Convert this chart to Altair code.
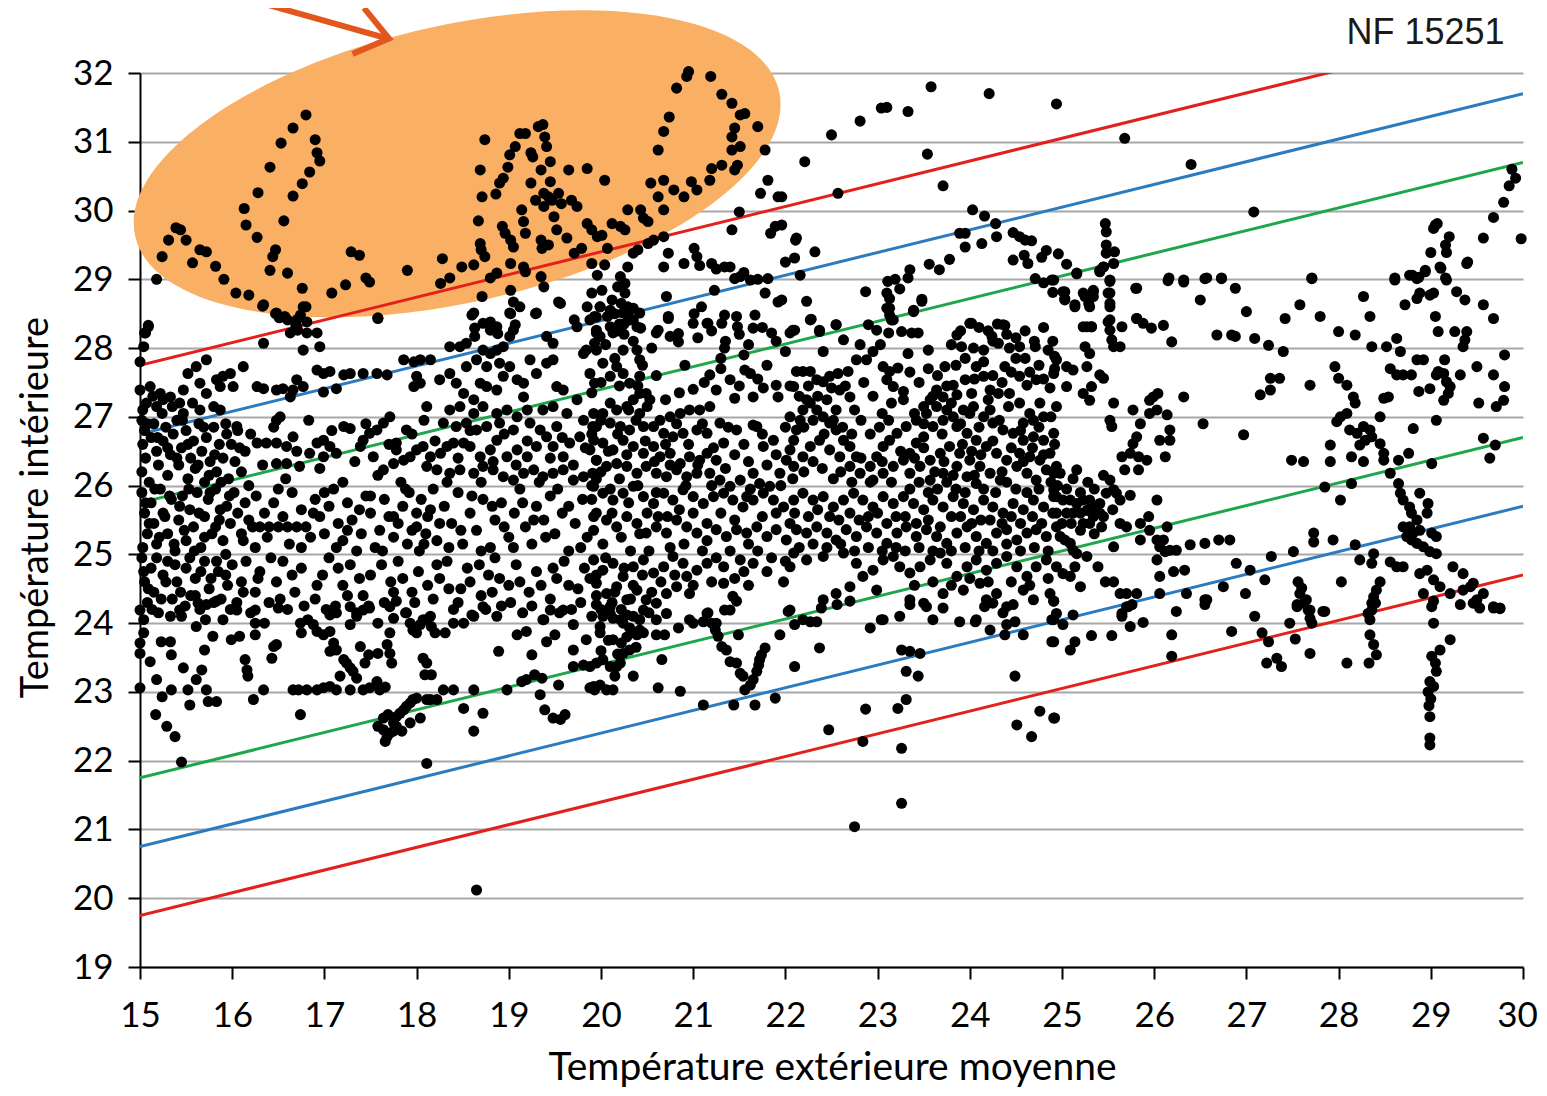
import altair as alt
import pandas as pd

# ---------------- data (x = outdoor mean, y = indoor) ----------------
ellipse_zone = [
(15.09,28.33),(15.06,28.22),(15.18,29.0),(15.24,29.33),(15.31,29.57),(15.39,29.75),(15.44,29.72),(15.5,29.57),(15.57,29.24),(15.65,29.43),(15.72,29.4),(15.82,29.19),(15.91,29.0),(16.04,28.8),(16.18,28.77),(16.33,28.61),(16.47,28.5),(16.51,28.44),(16.6,28.41),(16.69,28.33),(16.74,28.48),(16.71,28.26),(16.8,28.6),(16.76,28.87),(16.6,29.09),(16.41,29.13),(16.44,29.33),(16.47,29.43),(16.27,29.61),(16.15,29.79),(16.13,30.03),(16.28,30.26),(16.41,30.63),(16.56,29.85),(16.66,30.21),(16.76,30.39),(16.84,30.56),(16.53,30.98),(16.66,31.2),(16.8,31.39),(16.9,31.03),(16.92,30.84),(16.95,30.72),(17.08,28.8),(17.23,28.92),(17.29,29.4),(17.38,29.35),(17.45,29.02),(17.49,28.96),(17.58,28.44),(17.9,29.13),(18.26,28.94),(18.28,29.3),(18.36,29.02),(18.49,29.18),(18.62,29.21),(18.69,29.52),(18.71,30.2),(18.69,30.59),(18.74,31.03),(18.67,29.85),(18.7,29.43),(18.74,29.33),(18.8,29.02),(18.87,29.09),(18.86,30.24),(18.9,30.4),(18.94,30.47),(18.99,30.63),(19.01,30.81),(19.07,30.93),(19.12,31.12),(19.18,31.12),(19.24,30.84),(19.26,30.78),(19.32,31.22),(19.37,31.25),(19.39,31.07),(19.41,30.93),(19.45,30.71),(19.24,30.4),(19.29,30.15),(19.38,30.25),(19.43,30.2),(19.47,30.15),(19.38,30.06),(19.45,30.42),(19.35,30.59),
(19.14,30.01),(19.16,29.84),(19.18,29.67),(18.93,29.77),(18.96,29.67),(19.02,29.57),(19.05,29.47),(19.02,29.23),(19.16,29.18),(19.18,29.11),(19.35,29.57),(19.36,29.45),(19.43,29.5),(19.49,29.91),(19.52,29.72),(19.54,30.25),(19.57,30.1),(19.65,30.59),(19.68,30.15),(19.74,30.06),(19.85,30.61),(20.04,30.44),(19.63,29.6),(19.71,29.38),(19.79,29.45),(19.85,29.81),(19.9,29.72),(19.96,29.62),(20.01,29.64),(19.9,29.23),(19.96,29.06),(20.04,29.21),(20.07,29.45),(20.12,29.81),(20.21,29.77),(20.26,29.72),(20.29,30.01),(20.43,30.01),(20.46,29.89),(20.51,29.84),(20.54,30.4),(20.62,30.2),(20.68,30.01),(20.68,30.44),(20.79,30.3),(20.9,30.2),(20.98,30.42),(21.04,30.3),(21.18,30.44),(21.2,30.61),(21.31,30.66),(21.45,30.59),(21.48,30.66),(21.42,30.88),(21.51,30.93),(20.62,30.88),(20.68,31.15),(20.74,31.36),(20.82,31.78),(20.93,31.95),(20.95,32.02),(21.19,31.95),(21.31,31.69),(21.42,31.56),(21.51,31.39),(21.56,31.41),(21.45,31.2),(21.42,31.07),(21.7,31.22),(21.78,30.88),(21.81,30.44),(21.73,30.25),(21.92,30.2),(21.5,29.98),(21.42,29.72),(21.89,29.77),(21.84,29.67),(22.11,29.57),
]

below_ellipse = [
(18.6,28.48),(18.63,28.29),(18.71,28.75),(18.8,28.38),(18.88,28.21),(19.02,28.84),(19.05,28.67),(19.02,28.5),(19.07,28.34),(19.29,28.5),(19.35,29.04),(19.38,28.89),(19.54,28.67),(19.71,28.41),(19.9,28.8),(19.93,28.46),(19.99,28.6),(20.01,28.84),(20.07,28.46),(20.12,28.7),(20.18,28.89),(20.21,29.04),(20.26,28.94),(20.29,29.18),(20.35,29.38),(20.4,29.43),(20.51,29.52),(20.57,29.57),(20.68,29.62),(20.26,28.8),(20.29,28.6),(20.35,28.41),(20.68,29.18),(20.73,29.38),(20.9,29.23),(21.01,29.45),(21.04,29.33),(21.2,29.23),(21.34,29.18),(21.45,29.01),(21.51,29.04),(21.62,28.99),(21.78,28.8),(21.81,29.01),(21.92,28.67),(21.67,28.48),(21.23,28.84),(21.34,28.48),(21.48,28.31),(21.15,28.36),(21.01,28.5),(20.84,28.21),(20.71,28.75),(20.73,28.46),(20.62,28.26),(20.43,28.29),
(20.15,28.5),(20.2,28.35),(20.22,28.65),(20.3,28.45),(20.18,28.25),(20.25,28.2),
(21.07,29.2),(21.25,29.15),(21.4,29.18),(21.55,29.1),(21.7,29.0),(22.0,29.25),(22.16,29.06),
(21.05,28.15),(21.2,28.25),(21.35,28.1),(21.5,28.2),(21.6,28.05),(21.75,28.3),(21.9,28.1),(22.0,27.95),(21.3,27.85),(21.55,27.9),(21.8,27.75),
]

left_upper = [
(16.34,28.63),(16.48,28.51),(16.57,28.46),(16.7,28.41),(16.77,28.6),(16.81,28.38),(16.63,28.22),(16.7,28.31),(16.81,28.22),(16.92,28.22),(16.77,27.97),(16.95,28.02),(16.34,28.07),(17.58,28.43),(18.62,28.51),(18.72,28.36),(18.8,28.26),(18.87,28.31),(19.01,28.51),(19.05,28.26),(19.12,28.6),(19.3,28.51),(19.56,28.65),(19.74,28.31),(19.88,28.41),(19.95,28.22),(19.93,28.07),(18.36,28.02),(18.47,28.02),(18.54,28.07),(18.63,28.17),(18.72,27.97),(18.8,27.92),(18.87,27.97),(18.94,28.02),(19.01,28.17),(19.41,28.17),(19.48,28.07),(19.84,27.97),(15.04,28.02),(15.05,28.22),(15.09,28.31),(15.0,27.8),
(15.0,27.39),(15.11,27.44),(15.22,27.34),(15.07,27.2),(15.18,27.15),(15.25,27.25),(15.33,27.29),(15.43,27.2),(15.47,27.39),(15.52,27.63),(15.61,27.73),(15.72,27.83),(15.65,27.49),(15.72,27.34),(15.83,27.54),(15.87,27.44),(15.9,27.59),(15.98,27.63),(16.01,27.44),(16.12,27.73),(15.8,27.15),(15.87,27.1),(15.65,27.1),(15.47,27.05),
(16.27,27.44),(16.34,27.41),(16.48,27.39),(16.55,27.41),(16.7,27.54),(16.66,27.39),(16.63,27.29),(16.77,27.44),(16.92,27.68),(16.99,27.63),(17.06,27.66),(17.21,27.61),(17.13,27.41),(16.99,27.36),(17.28,27.63),(17.42,27.63),(17.57,27.63),(17.68,27.61),(16.52,27.0),(16.48,26.95),(17.86,27.83),(17.97,27.8),(18.04,27.83),(18.15,27.83),(18.0,27.59),(17.97,27.44),(18.04,27.49),(18.11,27.15),(18.25,27.54),(18.36,27.63),(18.43,27.49),(18.51,27.34),(18.62,27.25),(18.69,27.49),(18.76,27.44),(18.87,27.39),(18.94,27.59),(19.01,27.73),(19.09,27.54),(19.16,27.49),(19.23,27.83),(19.3,27.63),(19.41,27.78),(19.48,27.83),(19.52,27.44),(19.59,27.39),(19.74,27.25),(19.81,27.92),(19.88,27.63),(19.93,27.49),(18.54,27.73),(18.65,27.83),(18.76,27.73),(18.9,27.78),(19.16,27.29),(18.36,27.1),(18.47,27.15),(18.62,27.05),(18.72,27.15),(18.87,27.05),(18.98,27.1),(19.09,27.0),(19.2,27.1),(19.37,27.1),(19.48,27.15),(19.63,27.05),
]

left_26 = [
(15.02,26.95),(15.05,26.8),(15.03,26.6),(15.06,26.4),(15.02,26.2),(15.1,26.05),(15.12,26.7),(15.15,26.9),(15.18,26.5),(15.2,26.3),(15.25,26.65),(15.28,26.85),(15.3,26.15),(15.33,26.45),(15.36,26.75),(15.4,26.95),(15.42,26.3),(15.45,26.55),(15.5,26.8),(15.52,26.1),(15.55,26.4),(15.58,26.65),(15.6,26.25),(15.64,26.9),(15.67,26.5),(15.7,26.05),(15.72,26.7),(15.76,26.35),(15.8,26.85),(15.83,26.2),(15.86,26.6),(15.9,26.4),(15.93,26.9),(15.96,26.1),(15.99,26.6),(16.03,26.35),(16.06,26.8),(16.1,26.2),(16.14,26.5),(16.18,26.0),
(16.05,26.86),(16.27,26.62),(16.37,26.62),(16.48,26.62),(16.59,26.57),(16.66,26.71),(16.48,26.32),(16.59,26.32),(16.73,26.28),(16.84,26.47),(16.99,26.42),(17.13,26.47),(17.06,26.57),(16.99,26.66),(16.92,26.62),
(17.21,26.86),(17.28,26.83),(17.42,26.66),(17.49,26.76),(17.57,26.81),(17.64,26.91),(17.71,27.0),(17.39,26.57),(17.53,26.42),(17.64,26.23),(17.75,26.32),(17.78,26.52),(17.86,26.37),(17.93,26.42),(18.0,26.52),(17.89,26.81),(17.78,26.62),
(18.07,26.57),(18.15,26.42),(18.26,26.47),(18.33,26.57),(18.4,26.62),(18.51,26.62),(18.58,26.57),(18.69,26.42),(18.8,26.52),(18.87,26.66),(18.98,26.42),(19.09,26.52),(19.2,26.42),(19.3,26.57),(19.41,26.71),(19.48,26.57),(19.59,26.42),(19.66,26.62),(19.77,26.71),(19.88,26.52),(19.95,26.37),(19.81,26.95),(19.91,26.86),(18.11,26.28),(18.22,26.23),(18.36,26.18),(18.47,26.23),(18.62,26.18),(18.72,26.28),(18.83,26.23),(18.94,26.13),(19.05,26.08),(19.16,26.18),(19.27,26.23),(19.37,26.13),(19.48,26.18),(19.59,26.23),(19.7,26.08),(19.81,26.13),(19.91,26.18),(18.29,26.91),(18.43,26.86),(18.54,26.91),(18.65,26.81),(18.76,26.86),(18.9,26.91),(19.05,26.81),(19.23,26.91),(19.34,26.81),(19.52,26.86),
]

left_25 = [
(15.02,25.9),(15.05,25.6),(15.08,25.3),(15.03,25.1),(15.12,25.75),(15.15,25.45),(15.18,25.15),(15.22,25.95),(15.25,25.6),(15.3,25.3),(15.34,25.8),(15.38,25.05),(15.42,25.5),(15.46,25.85),(15.5,25.2),(15.54,25.65),(15.58,25.4),(15.62,25.9),(15.66,25.1),(15.7,25.55),(15.74,25.8),(15.78,25.3),(15.82,25.95),(15.86,25.5),(15.9,25.2),(15.94,25.7),(15.98,25.45),
(16.02,25.9),(16.06,25.6),(16.1,25.3),(16.14,25.75),(16.18,25.5),(16.22,25.4),(16.26,25.85),(16.3,25.4),(16.35,25.6),(16.4,25.4),(16.45,25.75),(16.5,25.4),(16.55,25.55),(16.6,25.4),(16.65,25.9),(16.7,25.4),(16.75,25.65),(16.8,25.4),(16.85,25.25),(16.9,25.8),(16.95,25.55),(17.0,25.3),(17.05,25.7),(17.1,25.95),(17.15,25.45),(17.2,25.2),(17.25,25.75),(17.3,25.5),(17.35,25.05),(17.4,25.3),(17.45,25.85),(17.5,25.6),(17.55,25.1),(17.6,25.35),(17.65,25.8),(17.7,25.55),(17.75,25.25),(17.8,25.45),(17.85,25.7),(17.9,25.15),(17.92,25.9),(17.95,25.35),(18.0,25.6),(18.03,25.05),(18.05,25.8),(18.1,25.3),(18.12,25.55),(18.18,25.95),(18.22,25.2),
(18.3,25.7),(18.38,25.45),(18.45,25.9),(18.5,25.15),(18.58,25.6),(18.65,25.35),(18.72,25.8),(18.8,25.1),(18.85,25.5),(18.92,25.75),(19.0,25.25),(19.06,25.6),(19.12,25.95),(19.18,25.4),(19.25,25.15),(19.3,25.7),(19.38,25.5),(19.45,25.85),(19.5,25.3),(19.58,25.6),(19.65,25.05),(19.72,25.45),(19.8,25.8),(19.85,25.25),(19.92,25.55),
]

left_24 = [
(15.02,24.95),(15.05,24.6),(15.08,24.3),(15.04,24.05),(15.12,24.8),(15.15,24.45),(15.2,24.15),(15.25,24.7),(15.3,24.9),(15.35,24.35),(15.4,24.6),(15.45,24.1),(15.5,24.8),(15.55,24.4),(15.6,24.65),(15.65,24.2),(15.7,24.9),(15.75,24.5),(15.8,24.3),(15.85,24.75),(15.9,24.05),(15.95,24.55),(16.0,24.85),(16.05,24.3),(16.1,24.6),(16.15,24.9),(16.2,24.15),(16.25,24.45),(16.3,24.75),(16.35,24.0),(16.4,24.3),(16.48,24.6),(16.55,24.9),(16.6,24.2),(16.68,24.45),(16.75,24.8),(16.82,24.05),(16.9,24.35),(16.98,24.7),(17.05,24.95),(17.12,24.25),(17.2,24.55),(17.28,24.85),(17.35,24.1),(17.42,24.4),(17.5,24.7),(17.58,24.0),(17.65,24.3),(17.72,24.6),(17.8,24.9),(17.88,24.15),(17.95,24.45),(18.02,24.75),(18.1,24.05),(18.18,24.35),(18.25,24.65),(18.33,24.9),(18.4,24.2),(18.48,24.5),(18.55,24.8),(18.62,24.1),(18.7,24.4),(18.78,24.7),(18.85,24.95),(18.92,24.25),(19.0,24.55),(19.08,24.85),(19.15,24.15),(19.22,24.45),(19.3,24.75),(19.38,24.05),(19.45,24.35),(19.52,24.65),(19.6,24.9),(19.68,24.2),(19.75,24.5),(19.82,24.8),(19.9,24.1),(19.95,24.4),
]

left_extra = [
(15.03,27.1),(15.08,26.9),(15.14,27.3),(15.19,26.7),(15.24,27.05),(15.3,26.55),(15.35,27.15),(15.4,26.4),(15.46,26.95),(15.52,26.6),(15.57,27.2),(15.63,26.3),(15.69,26.85),(15.75,26.15),(15.81,26.45),(15.88,26.05),(15.94,26.75),(15.06,25.75),(15.1,25.45),(15.16,25.95),(15.21,25.25),(15.27,25.55),(15.32,25.85),(15.37,25.15),(15.43,25.7),(15.48,25.35),(15.53,25.95),(15.59,25.05),(15.64,25.6),(15.7,25.25),(15.76,25.9),(15.82,25.4),(15.87,25.65),(15.93,25.0),(15.97,25.85),(15.04,24.75),(15.09,24.5),(15.13,24.2),(15.18,24.95),(15.23,24.35),(15.28,24.6),(15.33,24.1),(15.38,24.85),(15.44,24.45),(15.49,24.25),(15.54,24.95),(15.6,24.4),(15.66,24.75),(15.71,24.05),(15.77,24.65),(15.83,24.9),(15.88,24.35),(15.93,24.7),(15.98,24.2),
(16.08,26.55),(16.2,26.75),(16.33,26.3),(16.45,26.85),(16.58,26.1),(16.7,26.5),(16.83,26.95),(16.95,26.25),(17.08,26.8),(17.2,26.05),(17.33,26.35),(17.45,26.9),(17.58,26.15),(17.7,26.6),(17.83,26.05),(17.95,26.75),(18.08,26.95),(18.2,26.65),(18.33,26.05),(18.45,26.4),(18.58,26.8),(18.7,26.05),(18.83,26.35),(18.95,26.75),(19.08,26.3),(19.2,26.65),(19.33,26.05),(19.45,26.4),(19.58,26.7),(19.7,26.3),(19.83,26.55),(19.95,26.1),
(16.12,25.2),(16.25,25.1),(16.38,25.25),(16.5,25.95),(16.62,25.15),(16.75,25.1),(16.88,25.6),(17.0,25.9),(17.13,25.1),(17.25,25.35),(17.38,25.65),(17.5,25.85),(17.63,25.05),(17.75,25.55),(17.88,25.95),(18.0,25.4),(18.08,25.15),(18.15,25.65),(18.25,25.45),(18.35,25.1),(18.48,25.35),(18.6,25.85),(18.7,25.05),(18.82,25.7),(18.95,25.4),(19.05,25.1),(19.15,25.75),(19.27,25.5),(19.4,25.25),(19.53,25.95),(19.65,25.7),(19.78,25.1),(19.9,25.8),
(16.12,24.45),(16.28,24.65),(16.42,24.95),(16.52,24.35),(16.65,24.7),(16.78,24.25),(16.92,24.55),(17.02,24.2),(17.15,24.8),(17.25,24.4),(17.38,24.65),(17.48,24.25),(17.62,24.85),(17.75,24.45),(17.85,24.65),(17.98,24.3),(18.12,24.55),(18.22,24.85),(18.35,24.5),(18.45,24.3),(18.58,24.6),(18.68,24.85),(18.75,24.2),(18.82,24.45),(18.9,24.65),(19.02,24.3),(19.12,24.6),(19.25,24.25),(19.35,24.55),(19.48,24.8),(19.55,24.15),(19.65,24.55),(19.78,24.3),(19.88,24.65),
]

left_low = [
(15.0,24.19),(15.04,23.86),(15.0,23.71),(15.0,23.56),(15.0,23.06),(15.11,23.44),(15.18,23.18),(15.17,22.67),(15.29,22.5),(15.38,22.35),(15.45,21.98),(15.24,22.93),(15.34,23.03),(15.23,23.73),(15.33,23.73),(15.34,23.54),(15.47,23.35),(15.43,24.19),(15.54,22.81),(15.52,23.03),(15.61,23.18),(15.67,23.32),(15.72,23.03),(15.74,22.86),(15.83,22.86),(15.7,23.61),(15.61,23.95),(15.79,23.81),(15.72,24.27),(15.83,24.32),(15.63,24.29),(16.05,24.19),(15.99,23.76),(16.08,23.81),(16.14,23.47),(16.16,23.32),(16.17,23.23),(16.23,22.89),(16.34,23.03),(16.25,24.0),(16.25,23.83),(16.25,24.19),(16.45,23.66),(16.48,23.69),(16.43,23.49),(16.5,24.22),(16.74,24.0),(16.75,23.86),(16.66,23.03),(16.72,23.03),(16.81,23.03),(16.92,23.03),(16.99,23.06),(17.06,23.08),(17.13,23.03),(16.74,22.67),
(16.88,23.98),(16.92,23.88),(16.99,23.83),(17.06,23.88),(17.1,23.71),(17.06,23.59),(17.13,23.61),(17.21,23.47),(17.24,23.42),(17.28,23.35),(17.31,23.3),(17.35,23.2),(17.17,23.23),(17.28,23.03),(17.42,23.03),(17.49,23.06),(17.57,23.15),(17.6,23.03),(17.66,23.07),(17.06,24.12),(17.13,24.15),(17.28,24.24),(17.35,24.15),(17.42,24.19),(17.49,24.22),(17.28,23.98),(17.39,23.66),(17.48,23.54),(17.44,23.42),(17.58,23.56),(17.68,23.69),(17.71,23.86),(17.71,23.56),(17.73,23.42),(17.75,24.07),(17.71,24.24),(17.78,24.32),
(17.58,22.5),(17.64,22.45),(17.68,22.35),(17.66,22.28),(17.71,22.4),(17.75,22.55),(17.78,22.64),(17.82,22.69),(17.86,22.74),(17.89,22.79),(17.93,22.84),(17.96,22.89),(18.0,22.91),(17.75,22.43),(17.84,22.43),(17.93,22.55),(18.04,22.62),(17.64,22.62),(17.69,22.67),(17.78,22.5),(18.11,21.96),(18.11,22.89),
(17.89,24.15),(17.93,24.0),(17.96,23.9),(18.0,23.86),(18.04,23.98),(18.07,24.05),(18.15,24.1),(18.16,23.95),(18.2,23.86),(18.31,23.86),(18.4,24.0),(18.51,24.0),(18.07,23.49),(18.09,23.25),(18.16,23.25),(18.11,23.42),(18.15,22.89),(18.22,22.89),(18.29,23.03),(18.4,23.03),(18.51,22.76),(18.62,23.03),(18.62,22.43),(18.72,22.69),(18.6,24.12),(18.72,24.24),(18.87,24.1),(18.89,23.59),(18.98,23.03),(19.09,23.83),(19.19,23.88),(19.25,23.54),(19.28,23.25),(19.36,23.2),(19.34,22.96),(19.39,22.74),(19.48,22.62),(19.56,22.6),(19.61,22.67),(19.54,23.1),(19.41,23.73),(19.5,23.83),(19.37,24.05),(19.45,24.19),(19.59,24.19),(19.7,23.98),(19.7,23.61),(19.7,23.37),(19.81,23.39),(19.88,23.37),(19.84,23.76),(19.88,23.06),(19.93,23.03),(19.14,23.15),(19.19,23.18),(18.65,20.12),
]

middle_upper = [
(19.99,28.6),(20.1,28.55),(20.24,28.51),(20.35,28.58),(20.42,28.51),(20.31,28.41),(20.39,28.31),(20.1,28.31),(19.95,28.26),(19.99,28.17),(20.13,28.22),(20.24,27.97),(20.39,27.97),(20.42,27.83),(19.95,27.97),(20.02,27.78),(20.1,27.59),(20.17,27.73),(20.24,27.63),(20.31,27.49),(20.42,27.59),(20.35,27.25),(20.42,27.34),(20.49,27.34),(20.6,28.22),(20.75,28.17),(20.84,28.09),(20.73,28.43),(21.0,28.36),(21.16,28.36),(21.31,28.36),(21.47,28.46),(21.65,28.29),(21.85,28.22),(22.05,28.22),(22.1,28.26),(22.37,28.24),(22.55,28.34),(22.27,28.41),(22.63,28.12),(22.41,27.95),(21.09,28.6),(21.34,28.0),(20.91,27.75),(21.18,27.61),(21.25,27.39),(21.4,27.54),(21.56,27.68),(21.62,27.63),(21.45,27.27),(21.65,27.29),(21.76,27.42),(21.9,27.46),(21.92,27.29),(22.09,27.44),(22.12,27.66),(22.19,27.66),(22.27,27.66),(22.34,27.54),(22.41,27.51),(22.48,27.59),(22.57,27.63),(22.68,27.66),(22.5,27.42),(22.59,27.39),(22.7,27.29),(22.77,27.83),(22.88,27.83),(22.81,28.05),(22.95,27.95),(23.03,28.05),(23.06,27.73),(23.13,27.66),(23.22,27.71),(23.1,27.54),(23.17,27.44),(23.28,27.37),(23.28,27.25),(23.33,27.92),(23.44,28.22),(23.55,27.97),(22.99,28.26),(23.13,28.58),(23.15,28.41),(23.12,28.22),(23.26,28.24),(23.37,28.22),(23.39,28.53),(23.48,28.68),(23.73,27.73),(23.86,28.19),(23.91,28.02),(24.0,28.36),(24.04,28.0),(24.15,27.97),(24.24,28.17),(24.31,28.07),(24.36,28.34),(24.43,28.0),(24.54,28.02),(24.71,28.02),(24.85,27.97),(24.92,27.88),(24.38,27.73),(24.54,27.59),(24.62,27.46),(24.43,27.34),(24.72,27.54),(24.87,27.42),(24.07,27.73),(24.15,27.59),(23.95,27.54),(23.82,27.46),(23.64,27.39),(23.71,27.29),(23.57,27.25),(23.5,27.15),(23.86,27.32),(24.02,27.34),(24.22,27.39),(24.31,27.34),(24.2,27.25),(24.54,27.2),(24.76,27.2),(24.94,27.15),
(24.1,28.3),(24.2,28.25),(24.3,28.35),(24.25,28.1),(24.4,28.2),(24.5,28.15),(24.6,28.25),(24.7,28.1),(24.8,28.3),(24.9,28.1),(23.9,28.25),(23.8,28.05),(24.6,27.85),(24.75,27.75),(24.45,27.65),
]

middle_26 = [
(19.92,27.05),(20.02,27.05),(20.17,27.1),(20.28,27.15),(20.42,27.05),(20.53,27.25),(19.95,26.86),(20.1,26.91),(20.21,26.86),(20.31,26.81),(20.46,26.86),(20.57,26.86),(20.64,26.95),(20.75,27.0),(20.86,27.05),(20.96,27.1),(21.07,27.1),(21.18,27.15),(20.68,26.76),(20.78,26.71),(20.89,26.76),(21.04,26.81),(21.15,26.76),(21.29,26.91),(21.47,26.81),(21.65,26.88),(21.69,26.86),(21.33,26.62),(21.76,26.57),(21.87,26.66),(19.92,26.66),(20.02,26.62),(20.13,26.52),(20.24,26.66),(20.35,26.57),(20.46,26.47),(20.57,26.57),(20.64,26.42),(20.75,26.47),(20.86,26.32),(20.96,26.42),(21.07,26.37),(21.15,26.47),(21.25,26.37),(19.95,26.37),(20.06,26.28),(20.17,26.32),(20.28,26.28),(20.39,26.18),(20.49,26.28),(20.6,26.18),(20.71,26.13),(20.82,26.23),(20.93,26.13),(21.04,26.18),(21.18,26.18),(21.29,26.08),(21.4,25.99),(21.51,26.08),(21.58,25.84),(21.65,26.18),(21.72,26.03),(21.83,25.99),(21.94,26.18),(22.01,26.37),(22.05,26.52),(22.09,26.66),(22.12,26.81),(22.16,26.95),(22.19,27.1),(22.23,27.25),(22.27,27.2),(22.34,27.1),(22.41,27.0),(22.48,26.91),(22.55,26.81),(22.63,26.66),(22.7,26.57),(22.77,26.42),(22.09,26.28),(22.19,26.42),(22.27,26.57),(22.37,26.66),(22.48,26.52),(22.59,26.42),(22.7,26.28),(22.81,26.18),(22.92,26.28),(22.99,26.42),(23.06,26.57),(23.13,26.66),(23.21,26.76),(22.95,26.08),(23.06,26.18),(23.17,26.28),(23.28,26.37),(23.35,26.47),(23.42,26.62),(23.5,26.71),(23.6,26.86),(23.71,26.95),(23.82,27.0),(23.93,27.1),(24.04,27.15),(24.15,27.0),(24.25,26.91),(24.36,26.81),(24.47,26.76),(24.58,26.66),(24.69,26.71),(24.8,26.66),(24.91,26.76),(23.31,26.86),(23.42,26.95),(23.53,27.05),(23.64,27.15),(23.75,27.1),(23.86,26.86),(23.97,26.76),(24.07,26.66),(24.18,26.57),(24.29,26.47),(24.4,26.37),(24.51,26.28),(24.62,26.18),(24.72,26.08),(24.83,26.23),(24.94,26.28),(23.35,26.18),(23.46,26.28),(23.57,26.37),(23.68,26.47),(23.78,26.57),(23.89,26.47),(24.0,26.37),(24.11,26.28),(24.22,26.18),(24.33,26.08),(23.57,26.08),(23.71,26.18),(23.86,26.28),(23.97,26.13),(24.07,26.03),(24.54,26.47),(24.65,26.42),(24.76,26.37),(24.87,26.47),(24.58,26.91),(24.69,26.95),(24.8,27.0),
]

middle_25 = [
(19.92,25.99),(20.02,25.89),(20.13,25.79),(20.24,25.89),(20.35,25.99),(20.46,25.84),(20.57,25.74),(20.68,25.89),(20.78,25.79),(20.89,25.94),(21.0,25.84),(21.11,25.74),(21.22,25.84),(21.33,25.89),(21.43,25.79),(21.54,25.69),(21.65,25.79),(21.76,25.89),(21.87,25.79),(21.98,25.69),(22.09,25.79),(22.19,25.89),(22.3,25.79),(22.41,25.84),(22.52,25.69),(22.63,25.79),(22.74,25.89),(22.84,25.79),(22.95,25.69),(23.06,25.84),(23.17,25.74),(23.28,25.84),(23.39,25.74),(23.5,25.65),(23.6,25.79),(23.71,25.69),(23.82,25.84),(23.93,25.74),(24.04,25.65),(24.15,25.79),(24.25,25.69),(24.36,25.6),(24.47,25.74),(24.58,25.65),(24.69,25.79),(24.8,25.69),(24.91,25.84),
(19.95,25.6),(20.06,25.5),(20.17,25.4),(20.28,25.55),(20.39,25.45),(20.49,25.31),(20.6,25.4),(20.71,25.31),(20.82,25.5),(20.93,25.4),(21.04,25.31),(21.15,25.45),(21.25,25.36),(21.36,25.26),(21.47,25.36),(21.58,25.31),(21.69,25.4),(21.8,25.26),(21.9,25.36),(22.01,25.21),(22.12,25.36),(22.23,25.31),(22.34,25.4),(22.45,25.31),(22.55,25.21),(22.66,25.36),(22.77,25.26),(22.88,25.4),(22.99,25.31),(23.1,25.16),(23.21,25.31),(23.31,25.4),(23.42,25.26),(23.53,25.36),(23.64,25.26),(23.75,25.16),(23.86,25.31),(23.97,25.4),(24.07,25.26),(24.18,25.16),(24.29,25.31),(24.4,25.36),(24.51,25.21),(24.62,25.31),(24.72,25.36),(24.83,25.26),(24.94,25.4),
]

middle_24 = [
(19.92,24.92),(20.02,24.77),(20.13,24.87),(20.24,24.68),(20.35,24.82),(20.46,24.92),(20.57,24.73),(20.68,24.82),(20.78,24.97),(20.89,24.87),(19.95,24.58),(20.06,24.43),(20.17,24.53),(20.28,24.34),(20.39,24.48),(20.49,24.34),(20.6,24.29),(20.71,24.43),(20.82,24.53),(20.93,24.68),(21.04,24.77),(21.15,24.87),(21.33,24.82),(21.51,24.92),(21.65,24.87),(21.33,24.58),(21.43,24.39),(20.96,24.43),(20.1,24.14),(20.21,24.05),(20.35,24.1),(20.46,24.19),(19.99,23.95),(20.6,24.05),(20.71,24.14),(20.96,24.05),(21.15,24.14),(21.25,24.0),(21.98,24.6),(22.05,24.82),(22.09,25.02),(22.23,24.92),(22.41,24.97),(22.63,25.02),(22.77,24.87),(22.84,24.68),(22.95,24.77),(23.06,24.92),(23.17,24.97),(23.24,24.82),(23.35,24.73),(23.46,24.82),(23.57,24.92),(23.68,25.02),(23.75,24.87),(23.86,24.68),(23.97,24.82),(24.07,24.92),(24.18,24.77),(24.29,24.87),(24.4,24.97),(24.51,24.82),(24.62,24.68),(24.72,24.82),(24.83,24.92),(24.94,24.82),(22.05,24.19),(22.19,24.05),(22.41,24.34),(22.55,24.43),(22.7,24.53),(22.99,24.48),(23.06,24.05),(23.35,24.34),(23.5,24.29),(23.71,24.43),(23.93,24.48),(24.11,24.58),(24.18,24.34),(24.29,24.43),(24.4,24.24),(24.58,24.48),(24.69,24.34),(24.87,24.43),(24.94,24.14),(24.07,24.05),(23.6,24.05),(23.24,24.1),
]

middle_extra = [
(19.85,28.6),(19.95,28.45),(20.05,28.05),(20.15,27.85),(20.25,28.35),(20.35,28.1),(20.45,27.75),(20.55,28.0),(19.9,27.35),(20.0,27.5),(20.1,27.2),(20.2,27.45),(20.3,27.1),(20.4,27.45),(20.5,27.15),(20.6,27.6),(19.9,26.75),(20.0,26.95),(20.08,26.5),(20.18,26.75),(20.28,26.45),(20.38,26.95),(20.48,26.65),(20.58,26.35),(19.9,26.0),(20.0,26.2),(20.1,25.95),(20.2,26.1),(20.3,25.75),(20.4,26.0),(20.5,25.6),(20.6,25.9),(19.92,25.35),(20.02,25.15),(20.12,25.6),(20.22,25.25),(20.32,25.05),(20.42,25.3),(20.52,25.05),(20.62,25.55),(19.95,24.7),(20.05,24.95),(20.15,24.45),(20.25,24.8),(20.35,24.55),(20.45,24.7),(20.55,24.45),(20.65,24.6),(20.0,24.2),(20.12,24.3),(20.22,24.2),(20.32,24.35),(20.42,24.05),(20.52,24.15),(20.0,23.6),(20.08,23.75),(20.18,23.55),(20.28,23.8),(20.38,23.65),
(20.7,27.25),(20.85,27.35),(21.0,27.4),(21.12,27.5),(21.3,27.7),(21.5,27.45),(21.7,27.55),(20.7,26.6),(20.82,26.9),(20.95,26.6),(21.1,26.9),(21.22,26.55),(21.38,26.85),(21.55,26.6),(21.6,26.35),(21.75,26.75),(21.9,26.45),(22.0,26.85),(20.75,26.3),(20.92,26.0),(21.05,26.3),(21.2,26.0),(21.35,26.25),(21.45,26.45),(21.62,25.95),(21.8,26.3),(21.95,26.0),(20.72,25.55),(20.85,25.65),(21.0,25.6),(21.15,25.2),(21.3,25.6),(21.45,25.5),(21.6,25.15),(21.75,25.55),(21.9,25.6),(22.05,25.45),(20.75,25.1),(20.9,25.15),(21.1,25.05),(21.25,24.95),(21.4,25.05),(21.55,24.75),(21.7,25.05),(21.85,24.95),(22.0,24.9),(20.8,24.7),(21.0,24.55),(21.2,24.6),(21.45,24.65),(21.6,24.55),(21.8,24.75),
(22.05,27.45),(22.15,27.3),(22.25,27.45),(22.35,27.3),(22.45,27.25),(22.55,27.1),(22.65,27.45),(22.75,27.1),(22.85,27.5),(22.95,27.3),(23.05,27.05),(23.15,27.2),(22.05,27.0),(22.2,26.85),(22.3,26.95),(22.42,26.75),(22.52,26.95),(22.62,26.85),(22.72,26.75),(22.82,26.95),(22.92,26.75),(23.02,26.85),(23.12,26.95),(22.08,26.1),(22.2,26.2),(22.3,26.35),(22.4,26.25),(22.52,26.1),(22.6,26.2),(22.72,26.05),(22.82,26.4),(22.92,26.05),(23.05,26.35),(23.15,26.05),(23.25,26.5),(22.1,25.6),(22.25,25.55),(22.35,25.65),(22.48,25.55),(22.58,25.5),(22.7,25.6),(22.8,25.5),(22.9,25.55),(23.0,25.6),(23.1,25.45),(23.2,25.55),(22.15,25.1),(22.3,25.15),(22.45,25.1),(22.6,25.15),(22.75,25.05),(22.9,25.1),(23.05,25.05),(23.2,25.1),
(23.35,27.65),(23.45,27.5),(23.55,27.7),(23.65,27.6),(23.75,27.45),(23.85,27.75),(23.95,27.85),(24.05,27.55),(24.15,27.8),(24.25,27.6),(24.35,27.5),(24.5,27.85),(24.65,27.65),(24.8,27.55),(24.92,27.7),(23.4,27.05),(23.5,26.9),(23.6,27.3),(23.7,26.75),(23.8,27.2),(23.9,26.9),(24.0,27.05),(24.1,26.85),(24.22,27.1),(24.32,26.95),(24.42,27.15),(24.55,26.8),(24.65,27.05),(24.75,26.85),(24.88,27.0),(23.4,26.4),(23.5,26.55),(23.62,26.2),(23.72,26.35),(23.82,26.15),(23.92,26.6),(24.02,26.5),(24.12,26.45),(24.25,26.65),(24.35,26.2),(24.45,26.55),(24.58,26.35),(24.68,26.55),(24.8,26.45),(24.92,26.6),(23.35,25.95),(23.45,26.05),(23.55,25.9),(23.65,25.95),(23.75,26.05),(23.85,25.95),(23.95,25.9),(24.05,26.15),(24.15,25.95),(24.28,25.9),(24.4,26.05),(24.5,25.95),(24.62,25.9),(24.75,25.95),(24.88,26.05),(23.3,25.55),(23.42,25.45),(23.55,25.5),(23.68,25.4),(23.8,25.55),(23.9,25.55),(24.02,25.45),(24.12,25.5),(24.22,25.5),(24.35,25.45),(24.45,25.55),(24.55,25.45),(24.68,25.55),(24.78,25.45),(24.9,25.6),(23.3,25.05),(23.45,25.1),(23.6,25.05),(23.8,25.05),(23.95,25.1),(24.1,25.05),(24.25,25.05),(24.4,25.15),(24.55,25.05),(24.7,25.1),(24.85,25.05),(23.4,24.55),(23.6,24.6),(23.8,24.55),(24.0,24.65),(24.2,24.6),(24.45,24.6),(24.65,24.55),(24.85,24.65),
(24.95,26.0),(25.05,25.95),(25.12,26.1),(25.2,25.9),(25.28,26.05),(25.35,25.95),(25.45,26.15),(25.1,25.45),(25.2,25.35),(25.35,25.3),(25.0,25.45),(25.45,25.55),(25.55,25.65),
]

middle_low = [
(19.95,24.27),(20.02,24.1),(20.1,24.24),(20.13,24.07),(19.99,23.86),(20.13,23.76),(20.22,23.71),(20.24,24.0),(20.28,24.12),(20.31,23.93),(20.35,23.86),(20.39,23.83),(20.42,23.9),(20.46,23.86),(20.24,23.56),(20.31,23.61),(20.21,23.42),(19.95,23.42),(20.02,23.47),(20.1,23.37),(20.17,23.37),(20.15,23.23),(19.92,23.08),(19.99,23.1),(20.06,23.03),(20.13,23.03),(20.35,23.23),(20.6,23.83),(20.69,23.83),(20.84,23.93),(21.0,24.0),(21.11,24.02),(21.16,24.15),(21.2,24.0),(21.24,23.9),(21.27,23.81),(21.31,23.66),(21.36,23.61),(21.4,23.44),(21.47,23.42),(21.51,23.27),(21.54,23.23),(21.56,23.03),(21.62,23.1),(21.65,23.18),(21.69,23.3),(21.71,23.39),(21.72,23.47),(21.74,23.54),(21.78,23.64),(21.34,24.19),(21.4,24.19),(21.47,24.32),(21.49,23.83),(21.94,23.83),(22.03,24.17),(22.1,23.98),(22.1,23.37),(22.27,24.02),(22.34,24.02),(22.39,24.22),(22.37,23.64),(22.56,24.27),(22.7,24.32),(22.92,23.93),(23.04,24.05),(23.35,24.27),(23.53,24.24),(23.71,24.22),(23.89,24.02),(24.06,24.02),(24.16,24.24),(24.25,24.29),(24.36,24.15),(24.4,23.98),(24.47,24.27),(24.49,24.02),(24.22,23.9),(24.38,23.83),(24.58,23.83),(24.89,24.05),(24.89,23.73),(24.91,24.32),(23.26,23.61),(23.35,23.59),(23.46,23.56),(23.31,23.3),(23.44,23.23),(23.31,22.89),(23.22,22.76),(23.26,22.18),(23.26,21.38),(22.87,22.75),(22.84,22.28),(22.47,22.45),(22.75,21.04),(21.89,22.91),(21.67,22.81),(21.44,22.81),(21.11,22.81),(20.86,23.01),(20.62,23.06),(20.66,23.47),(24.49,23.23),(24.76,22.72),(24.91,22.62),(24.51,22.52),(24.67,22.35),
]

upper_middle = [
(21.96,30.2),(22.21,30.71),(22.5,31.1),(22.81,31.3),(23.04,31.49),(23.1,31.5),(23.33,31.44),(23.58,31.8),(23.54,30.82),(22.57,30.25),(23.71,30.36),(24.21,31.7),(24.94,31.55),(25.68,31.05),(21.96,29.79),(22.12,29.6),(22.1,29.31),(22.32,29.4),(21.96,28.7),(22.23,28.68),(22.28,28.42),(22.55,28.34),(22.08,28.26),(22.37,28.26),(22.87,28.82),(22.9,28.34),(23.11,28.97),(23.19,29.0),(23.24,28.86),(23.1,28.8),(23.13,28.72),(23.1,28.58),(23.13,28.48),(23.17,28.41),(23.35,29.14),(23.33,29.02),(23.39,28.55),(23.48,28.71),(23.56,29.22),(23.67,29.14),(23.78,29.29),(23.89,29.67),(23.95,29.67),(23.95,29.47),(24.03,30.01),(24.16,29.92),(24.13,29.52),(24.28,29.81),(24.29,29.62),(24.47,29.68),(24.54,29.62),(24.6,29.57),(24.67,29.56),(24.47,29.28),(24.59,29.35),(24.63,29.23),(24.71,29.01),(24.8,28.95),(24.89,28.99),(24.78,29.32),(24.83,29.42),(24.96,29.37),(25.05,29.22),(25.16,29.08),(24.9,28.81),(25.03,28.82),(25.03,28.7),(25.14,28.6),(25.25,28.75),(25.34,28.82),(25.3,28.6),(25.41,29.11),(25.45,29.18),(25.47,29.81),(25.48,29.69),(25.48,29.5),(25.48,29.38),(25.57,29.4),(25.56,29.23),(25.52,28.97),(25.52,28.8),(25.52,28.6),(25.52,28.41),(25.8,28.87),(25.81,28.43),(24.02,28.36),(24.38,28.33),(25.23,28.31),(25.32,28.31),
]

upper_right = [
(26.4,30.67),(27.08,29.98),(29.88,30.6),(29.92,30.47),(29.85,30.36),(29.79,30.12),(29.68,29.9),(29.57,29.6),(29.98,29.59),(29.05,29.79),(29.07,29.81),(29.03,29.74),(29.2,29.62),(29.16,29.5),(29.17,29.39),(29.0,29.39),(29.4,29.25),(29.11,29.16),(28.94,29.13),(28.8,29.06),(28.87,29.03),(28.61,29.02),(26.16,29.02),(26.32,28.99),(26.57,29.02),(26.73,29.02),(27.71,29.02),(29.16,29.02),
(24.91,28.99),(25.01,28.82),(25.03,28.72),(25.16,29.09),(25.14,28.63),(25.23,28.8),(25.27,28.31),(25.32,28.31),(25.25,28.02),(25.3,27.92),(25.34,28.75),(25.29,28.65),(25.34,28.84),(25.41,29.13),(25.45,29.18),(25.52,28.99),(25.5,28.8),(25.52,28.65),(25.5,28.38),(25.52,28.26),(25.54,28.12),(25.56,28.02),(25.63,28.02),(25.65,28.31),(25.81,28.87),(25.81,28.43),(25.88,28.36),(25.97,28.29),(26.1,28.33),(26.15,28.98),(26.19,28.09),(26.32,28.96),(26.5,28.7),(26.55,29.01),(26.73,29.01),(26.88,28.87),(27.0,28.53),(26.68,28.19),(26.84,28.19),(26.88,28.17),(27.09,28.14),(27.24,28.04),(27.4,27.95),(27.42,28.43),(27.58,28.63),(27.71,29.01),(27.8,28.46),(28.0,28.24),(28.18,28.19),(28.27,28.75),(28.34,28.46),(28.36,28.02),(28.52,28.02),(28.61,28.99),(28.63,28.14),(28.67,27.95),(28.72,28.63),(28.77,29.06),(28.85,29.01),(28.85,28.72),(28.88,28.8),(28.94,29.11),(28.99,28.77),(29.03,28.8),(29.05,28.46),(29.1,29.18),(29.17,28.99),(29.08,28.24),(29.26,28.24),(29.28,28.82),(29.37,28.7),(29.39,29.23),(29.39,28.24),(29.35,28.02),(29.37,28.12),(29.57,28.63),(29.68,28.43),(29.8,27.9),
]

right_mid = [
(24.94,27.83),(24.91,27.63),(25.05,27.73),(25.12,27.68),(25.27,27.73),(25.05,27.44),(25.23,27.34),(25.3,27.24),(25.32,27.44),(25.41,27.61),(25.45,27.56),(25.56,27.2),(25.54,26.86),(25.52,26.95),(25.77,27.1),(25.85,26.9),(25.81,26.71),(25.77,26.61),(25.74,26.47),(25.65,26.42),(25.68,26.23),(25.83,26.42),(25.83,26.23),(25.92,26.37),(25.95,27.24),(25.99,27.29),(26.04,27.34),(25.95,27.05),(26.03,27.1),(26.14,27.03),(26.17,26.81),(26.17,26.66),(26.06,26.66),(26.12,26.42),(26.32,27.29),(26.53,26.9),(26.97,26.74),(27.15,27.32),(27.26,27.39),(27.36,27.56),(27.26,27.56),(27.69,27.46),(27.96,27.73),(28.0,27.56),(28.09,27.46),(28.16,27.29),(28.18,27.2),(28.09,27.05),(28.02,27.0),(27.98,26.93),(28.12,26.81),(28.2,26.76),(28.27,26.86),(28.34,26.81),(28.29,26.66),(28.23,26.59),(28.36,26.71),(28.45,26.61),(28.49,26.47),(28.45,27.0),(28.49,27.27),(28.54,27.29),(28.56,27.7),(28.63,27.61),(28.7,27.61),(28.79,27.61),(28.85,27.83),(28.92,27.83),(28.87,27.37),(28.99,27.41),(29.06,27.61),(29.08,27.66),(29.14,27.63),(29.15,27.83),(29.17,27.51),(29.19,27.34),(29.14,27.24),(29.06,26.95),(28.81,26.83),(28.76,26.47),(28.65,26.37),(28.49,26.37),(28.27,26.35),(28.14,26.42),(27.91,26.59),(27.91,26.35),(27.62,26.35),(27.49,26.37),(29.21,27.44),(29.32,27.61),(29.5,27.73),(29.68,27.61),(29.8,27.44),(29.79,27.24),(29.71,27.15),(29.52,27.2),(29.57,26.69),(29.7,26.59),(29.64,26.4),(29.01,26.32),
]

right_low = [
(24.91,26.18),(24.98,26.18),(25.16,26.23),(24.91,25.94),(24.94,25.84),(25.01,25.79),(25.09,25.79),(25.16,25.74),(25.23,25.79),(25.3,25.79),(25.34,25.69),(25.41,25.74),(25.48,25.89),(25.52,26.08),(25.56,25.94),(25.59,25.89),(25.63,25.79),(25.74,25.86),(24.94,25.6),(25.05,25.6),(25.12,25.6),(25.2,25.6),(25.27,25.64),(25.34,25.55),(25.41,25.6),(25.23,25.45),(25.3,25.45),(25.43,25.4),(25.63,25.45),(25.7,25.4),(25.85,25.45),(25.94,25.55),(25.95,25.35),(26.03,25.79),(26.14,25.4),(26.03,25.21),(26.1,25.21),(26.06,25.11),(26.12,25.04),(26.17,25.06),(26.24,25.06),(26.39,25.14),(26.55,25.16),(26.7,25.21),(26.82,25.21),(25.85,25.21),(25.56,25.11),(24.98,25.26),(25.03,25.21),(25.09,25.16),(25.12,25.06),(25.16,25.01),(25.27,24.97),(25.01,24.72),(25.09,24.68),(25.14,24.82),(25.2,24.53),(25.39,24.82),(25.47,24.6),(25.56,24.6),(25.63,24.43),(25.7,24.43),(25.72,24.24),(25.65,24.14),(25.81,24.43),(26.03,24.92),(26.06,24.68),(26.06,24.43),(26.21,24.75),(26.33,24.77),(26.35,24.43),(26.55,24.34),(26.75,24.53),(26.89,24.87),(27.04,24.77),(27.2,24.63),(27.27,24.97),(27.51,25.04),(27.73,25.31),(27.73,25.18),(27.94,25.21),(28.18,25.14),(28.38,25.01),(28.23,24.92),(28.36,24.87),(28.56,24.89),(28.63,24.82),(28.7,24.82),(28.03,24.6),(28.02,25.79),(27.85,25.98),(28.14,26.03),(28.56,26.18),(28.65,26.03),(28.67,25.89),(28.7,25.79),(28.77,25.69),(28.79,25.6),(28.85,25.5),(28.88,25.89),(28.97,25.74),(28.96,25.6),(28.7,25.4),(28.77,25.4),(28.81,25.31),(28.88,25.35),(28.74,25.26),(28.79,25.21),(28.85,25.16),(28.92,25.11),(28.99,25.04),(29.06,25.01),(29.01,25.31),(29.06,25.26),(28.88,24.72),(28.96,24.77),(29.03,24.63),(29.1,24.53),(29.21,24.43),(29.24,24.82),(29.35,24.72),(29.43,24.53),(29.5,24.34),(29.57,24.43),(29.68,24.24),(29.75,24.21),(29.35,24.48),(29.46,24.58),(28.92,24.43),(29.01,24.24),(27.56,24.6),(27.6,24.51),(27.58,24.43),(27.62,24.29),(27.69,24.19),(27.83,24.17),(27.55,24.24),(28.45,24.6),(28.41,24.48),(28.38,24.38),(28.36,24.29),(28.32,24.14),(26.99,24.43),
]

right_bottom = [
(24.91,24.32),(24.91,24.05),(25.01,23.98),(25.12,24.12),(24.91,23.73),(25.09,23.61),(25.14,23.73),(25.32,23.82),(25.54,23.82),(25.65,24.1),(25.7,24.24),(25.76,24.27),(25.74,23.95),(25.88,24.01),(26.24,24.17),(26.19,23.83),(26.19,23.52),(24.92,22.62),(26.55,24.27),(26.57,24.34),(26.84,23.88),(27.09,24.1),(27.17,23.86),(27.24,23.73),(27.22,23.42),(27.33,23.49),(27.38,23.37),(27.47,24.0),(27.53,23.77),(27.55,24.27),(27.65,24.34),(27.67,24.19),(27.69,24.07),(27.71,24.0),(27.69,23.56),(27.85,24.17),(28.09,23.42),(28.33,23.42),(28.34,24.05),(28.34,23.83),(28.38,23.69),(28.41,23.54),(28.36,24.19),(28.4,24.29),(29.03,24.32),(29.03,24.0),(29.01,23.52),(29.05,23.42),(29.06,23.3),(28.99,23.15),(29.03,23.08),(28.97,23.0),(28.99,22.64),(28.99,22.33),(28.99,22.23),(29.0,22.9),(28.98,22.8),(29.1,23.61),(29.21,23.76),(29.32,24.27),(29.46,24.29),(29.53,24.22),(29.68,24.22),(29.75,24.22),
]

# comfort-band lines (EN 15251 categories), end values read at x = 15 and x = 30
band_names = ["III sup", "II sup", "I sup", "I inf", "II inf", "III inf"]
band_start = [27.75, 26.75, 25.75, 21.75, 20.75, 19.75]
band_end = [32.7, 31.7, 30.7, 26.7, 25.7, 24.7]
band_colors = ["#E3211C", "#2B7BC1", "#1EA64B", "#1EA64B", "#2B7BC1", "#E3211C"]

x_ticks = list(range(15, 31))
y_ticks = list(range(19, 33))

# ---------------- tables ----------------
groups = [ellipse_zone, below_ellipse, left_upper, left_26, left_25, left_24, left_extra,
          left_low, middle_upper, middle_26, middle_25, middle_24, middle_extra,
          middle_low, upper_middle, upper_right, right_mid, right_low, right_bottom]
pts = pd.DataFrame({"x": [p[0] for g in groups for p in g],
                    "y": [p[1] for g in groups for p in g]})

lines_df = pd.DataFrame({
    "band": [b for b in band_names for _ in range(2)],
    "x": [v for _ in band_names for v in (15, 30)],
    "y": [v for a, b in zip(band_start, band_end) for v in (a, b)],
})

ellipse_df = pd.DataFrame({"x": [18.44], "y": [30.68]})
arrow_df = pd.DataFrame({"x": [16.1], "y": [33.1], "x2": [17.66], "y2": [32.51]})
head_df = pd.DataFrame({"x": [17.7], "y": [32.5]})
label_df = pd.DataFrame({"x": [29.8], "y": [32.42], "t": ["NF 15251"]})

# ---------------- scales / axes ----------------
xsc = alt.Scale(domain=[15, 30], nice=False, zero=False)
ysc = alt.Scale(domain=[19, 32], nice=False, zero=False)

x_axis = alt.Axis(values=x_ticks, title="Température extérieure moyenne", grid=False,
                  domainColor="black", domainWidth=2, tickColor="black", tickWidth=2,
                  tickSize=12, labelFont="Lato", labelFontSize=35, labelColor="black",
                  labelPadding=19, labelFlush=False, labelOverlap=False,
                  labelOffset={"condition": {"test": "datum.value == 30", "value": -6}, "value": 0},
                  titleFont="Lato", titleFontSize=39, titleFontWeight="normal",
                  titleColor="black", titleX=692, titleY=112, titleAlign="center",
                  titleBaseline="alphabetic")
y_axis = alt.Axis(values=y_ticks, title="Température intérieure", grid=True,
                  gridColor="#A8A8A8", gridWidth=2, domainColor="black", domainWidth=2,
                  tickColor="black", tickWidth=2, tickSize=12, labelFont="Lato",
                  labelFontSize=35, labelColor="black", labelPadding=15, labelFlush=False,
                  labelOverlap=False, titleFont="Lato", titleFontSize=38,
                  titleFontWeight="normal", titleColor="black", titleAngle=270,
                  titleX=-104, titleY=434, titleAlign="center", titleBaseline="middle")

X = alt.X("x:Q", scale=xsc, axis=x_axis)
Y = alt.Y("y:Q", scale=ysc, axis=y_axis)

ellipse = alt.Chart(ellipse_df).mark_point(
    shape="M -1 0 A 1 0.42 0 1 1 1 0 A 1 0.42 0 1 1 -1 0 Z",
    filled=True, color="#F9B064", opacity=1, size=435600, angle=347.3, clip=False,
).encode(x=X, y=Y)

lines = alt.Chart(lines_df).mark_line(strokeWidth=3, clip=True).encode(
    x=X, y=Y,
    color=alt.Color("band:N", scale=alt.Scale(domain=band_names, range=band_colors), legend=None),
    detail="band:N",
)

dots = alt.Chart(pts).mark_circle(size=122, color="black", opacity=1, clip=False).encode(x=X, y=Y)

arrow = alt.Chart(arrow_df).mark_rule(color="#E2571E", strokeWidth=6, clip=False).encode(
    x=X, y=Y, x2="x2:Q", y2="y2:Q")
head = alt.Chart(head_df).mark_point(
    shape="M -1 -0.75 L 0 0 L -1 0.75", filled=False, color="#E2571E", strokeWidth=6,
    size=4000, angle=14, opacity=1, clip=False,
).encode(x=X, y=Y)

label = alt.Chart(label_df).mark_text(
    align="right", baseline="alphabetic", font="Liberation Sans", fontSize=36,
    color="#1a1a1a", clip=False,
).encode(x=X, y=Y, text="t:N")

chart = alt.layer(ellipse, lines, dots, arrow, head, label).properties(
    width=1383, height=894,
    autosize=alt.AutoSizeParams(type="none"),
    padding={"left": 132, "top": 65, "right": 16, "bottom": 121},
).configure_view(stroke=None)

chart.save("out.html", embed_options={"renderer": "svg", "actions": False})
